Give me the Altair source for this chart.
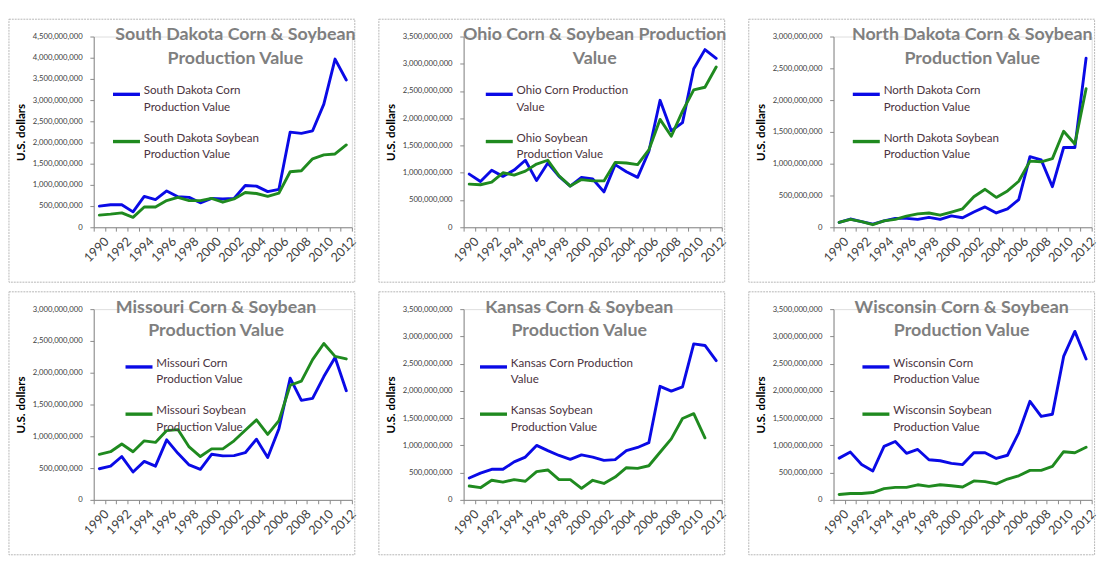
import altair as alt
import pandas as pd

years = list(range(1990, 2013))

# values in millions of U.S. dollars
sd_corn = [500, 531, 531, 364, 728, 653, 857, 720, 705, 577, 683, 668, 683, 986, 971, 842, 895, 2246, 2215, 2276, 2906, 3968, 3475]
sd_soy = [288, 311, 341, 235, 478, 478, 630, 705, 630, 630, 683, 592, 668, 820, 797, 728, 804, 1310, 1335, 1616, 1707, 1730, 1942]
oh_corn = [975, 840, 1046, 934, 1050, 1230, 857, 1180, 934, 756, 916, 887, 650, 1150, 1020, 916, 1390, 2330, 1770, 1920, 2910, 3260, 3100]
oh_soy = [792, 780, 827, 1000, 957, 1030, 1160, 1230, 945, 756, 875, 851, 851, 1190, 1180, 1150, 1420, 1980, 1670, 2130, 2520, 2570, 2940]
nd_corn = [76, 130, 90, 50, 100, 140, 140, 125, 155, 125, 180, 150, 240, 320, 225, 290, 435, 1110, 1060, 638, 1255, 1255, 2660]
nd_soy = [76, 125, 90, 40, 100, 125, 175, 210, 225, 190, 240, 290, 480, 597, 470, 572, 724, 1040, 1030, 1080, 1510, 1310, 2180]
mo_corn = [490, 530, 682, 439, 606, 530, 944, 732, 550, 480, 717, 692, 697, 742, 955, 667, 1120, 1914, 1566, 1596, 1940, 2240, 1717]
mo_soy = [717, 758, 879, 758, 929, 904, 1090, 1106, 833, 682, 803, 803, 929, 1096, 1258, 1030, 1247, 1803, 1869, 2207, 2460, 2257, 2217]
ks_corn = [401, 490, 561, 561, 697, 785, 1000, 903, 815, 744, 826, 785, 726, 738, 903, 962, 1050, 2084, 1995, 2072, 2863, 2834, 2556]
ks_soy = [254, 224, 360, 325, 372, 342, 519, 549, 372, 372, 212, 360, 301, 419, 590, 579, 626, 874, 1120, 1494, 1582, 1139, None]
wi_corn = [766, 877, 648, 530, 983, 1072, 854, 925, 736, 718, 671, 648, 866, 866, 760, 819, 1231, 1808, 1531, 1572, 2633, 3092, 2585]
wi_soy = [100, 118, 118, 135, 206, 230, 230, 277, 247, 277, 259, 236, 348, 336, 294, 383, 442, 542, 542, 613, 884, 866, 966]

titles = [
    ["South Dakota Corn & Soybean", "Production Value"],
    ["Ohio Corn & Soybean Production", "Value"],
    ["North Dakota Corn & Soybean", "Production Value"],
    ["Missouri Corn & Soybean", "Production Value"],
    ["Kansas Corn & Soybean", "Production Value"],
    ["Wisconsin Corn & Soybean", "Production Value"],
]
corn_labels = [
    "South Dakota Corn|Production Value",
    "Ohio Corn Production|Value",
    "North Dakota Corn|Production Value",
    "Missouri Corn|Production Value",
    "Kansas Corn Production|Value",
    "Wisconsin Corn|Production Value",
]
soy_labels = [
    "South Dakota Soybean|Production Value",
    "Ohio Soybean|Production Value",
    "North Dakota Soybean|Production Value",
    "Missouri Soybean|Production Value",
    "Kansas Soybean|Production Value",
    "Wisconsin Soybean|Production Value",
]
y_max = [4500, 3500, 3000, 3000, 3500, 3500]
legend_x = [18, 21, 18, 31, 15, 28]
title_dx = [13, 2, 10, -7, -14, -1]
corn_series = [sd_corn, oh_corn, nd_corn, mo_corn, ks_corn, wi_corn]
soy_series = [sd_soy, oh_soy, nd_soy, mo_soy, ks_soy, wi_soy]

BLUE = "#0a0ae6"
GREEN = "#1f8a1f"
AXIS_GREY = "#868686"
LABEL = "#404040"
W, H = 268, 198
FONT = "Lato"


def panel(i):
    rows = []
    for y, v in zip(years, corn_series[i]):
        rows.append({"year": y, "value": v * 1e6, "series": corn_labels[i]})
    for y, v in zip(years, soy_series[i]):
        if v is not None:
            rows.append({"year": y, "value": v * 1e6, "series": soy_labels[i]})
    df = pd.DataFrame(rows)

    frame = alt.Chart(pd.DataFrame({"k": [0]})).mark_rect(
        fillOpacity=0, stroke="#b4b4b4", strokeWidth=1, strokeDash=[2, 1]
    ).encode(
        x=alt.value(-88), x2=alt.value(W + 3), y=alt.value(-18), y2=alt.value(H + 57)
    )

    ymax = y_max[i] * 1_000_000
    lines = alt.Chart(df).mark_line(
        strokeWidth=3, strokeJoin="round", strokeCap="round"
    ).encode(
        x=alt.X(
            "year:Q",
            scale=alt.Scale(domain=[1989.5, 2012.5], nice=False, zero=False),
            axis=alt.Axis(
                values=[1989.5 + k for k in range(24)],
                labelExpr="(datum.value + 0.5) % 2 == 0 ? '' + (datum.value + 0.5) : ''",
                labelAngle=-45,
                labelOffset=9,
                labelPadding=4,
                labelFontSize=13,
                labelColor=LABEL,
                labelFont=FONT,
                labelOverlap=False,
                labelFlush=False,
                tickSize=4,
                tickColor=AXIS_GREY,
                domainColor=AXIS_GREY,
                grid=False,
                title=None,
            ),
        ),
        y=alt.Y(
            "value:Q",
            scale=alt.Scale(domain=[0, ymax], nice=False),
            axis=alt.Axis(
                values=list(range(0, ymax + 1, 500_000_000)),
                format=",.0f",
                labelFontSize=8,
                labelColor=LABEL,
                labelFont=FONT,
                labelPadding=8,
                tickSize=4,
                tickColor=AXIS_GREY,
                domainColor=AXIS_GREY,
                grid=False,
                title="U.S. dollars",
                titleFont=FONT,
                titleFontSize=12,
                titleFontWeight="bold",
                titleColor="black",
                titlePadding=5,
            ),
        ),
        color=alt.Color(
            "series:N",
            scale=alt.Scale(domain=[corn_labels[i], soy_labels[i]], range=[BLUE, GREEN]),
            legend=alt.Legend(
                title=None,
                orient="none",
                legendX=legend_x[i],
                legendY=44,
                labelExpr="split(datum.label, '|')",
                symbolType="stroke",
                symbolStrokeWidth=3.5,
                symbolSize=784,
                labelFontSize=12,
                labelFont=FONT,
                labelColor="#4a3340",
                labelLimit=400,
                labelBaseline="alphabetic",
                labelOffset=2,
                rowPadding=14,
                padding=0,
            ),
        ),
    )

    return alt.layer(frame, lines).properties(
        width=W,
        height=H,
        title=alt.TitleParams(
            text=titles[i],
            anchor="middle",
            frame="group",
            offset=-50,
            dx=title_dx[i],
            font=FONT,
            fontSize=18.5,
            fontWeight="bold",
            color="#7f7f7f",
            lineHeight=24,
        ),
    ).resolve_scale(color="independent")


panels = [panel(i) for i in range(6)]

chart = alt.concat(*panels, columns=3, spacing=8).resolve_scale(
    x="independent", y="independent", color="independent"
).resolve_legend(color="independent").properties(
    padding=0, background="white"
).configure_view(stroke=None).configure(
    style={"guide-label": {"lineHeight": 17}}
)

chart.save("out.html", embed_options={"renderer": "svg", "actions": False})
